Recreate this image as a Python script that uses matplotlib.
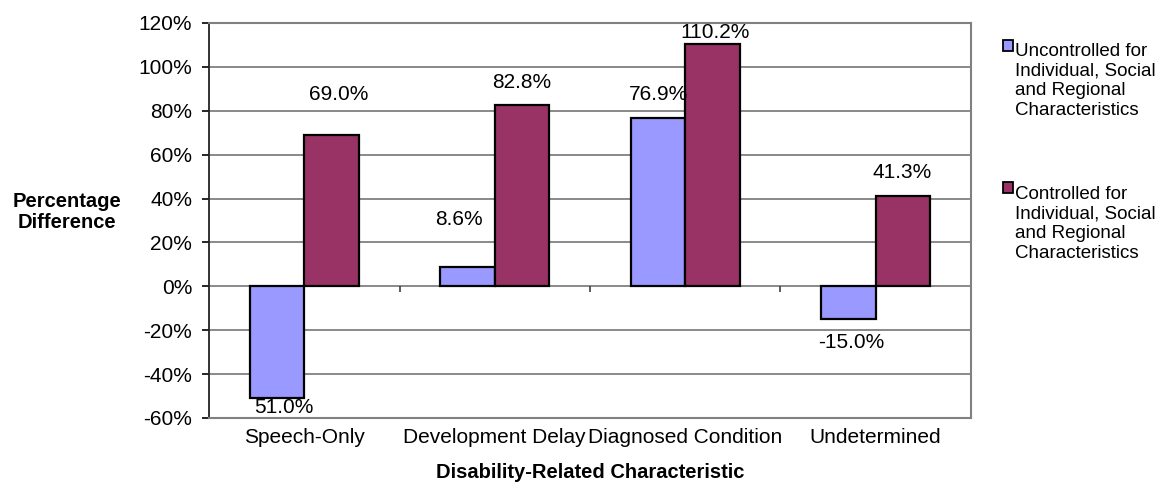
import numpy as np
import matplotlib
matplotlib.use("Agg")
import matplotlib.pyplot as plt
from matplotlib.patches import Rectangle

plt.rcParams["font.family"] = ["Liberation Sans", "DejaVu Sans"]

categories = ["Speech-Only", "Development Delay", "Diagnosed Condition", "Undetermined"]
uncontrolled = [-51.0, 8.6, 76.9, -15.0]
controlled = [69.0, 82.8, 110.2, 41.3]
series_names = [
    "Uncontrolled for\nIndividual, Social\nand Regional\nCharacteristics",
    "Controlled for\nIndividual, Social\nand Regional\nCharacteristics",
]
yticks = [-60, -40, -20, 0, 20, 40, 60, 80, 100, 120]

# hand-placed data label positions (x offset from category centre, y in %)
unc_label_pos = [(-0.105, -55.0), (-0.19, 30.5), (-0.14, 87.3), (-0.13, -25.5)]
con_label_pos = [(0.18, 87.3), (0.14, 92.7), (0.157, 115.5), (0.14, 51.8)]

BLUE = "#9999FF"
MAROON = "#993366"
GRID = "#808080"
FS = 15

fig = plt.figure(figsize=(11.6, 4.82), dpi=100)
ax = fig.add_axes([0.1802, 0.1328, 0.837 - 0.1802, 0.9523 - 0.1328])

x = np.arange(len(categories))
w = 0.286
b1 = ax.bar(x - w / 2, uncontrolled, w, color=BLUE, edgecolor="black", linewidth=1.6, zorder=3)
b2 = ax.bar(x + w / 2, controlled, w, color=MAROON, edgecolor="black", linewidth=1.6, zorder=3)

ax.set_xlim(-0.5, len(categories) - 0.5)
ax.set_ylim(-60, 120)
ax.set_yticks(yticks)
ax.set_yticklabels([f"{t}%" for t in yticks])
ax.yaxis.grid(True, color=GRID, linewidth=1.3, zorder=0)
ax.set_axisbelow(True)

ax.set_xticks(x)
ax.set_xticklabels(categories)
ax.tick_params(axis="x", length=0, pad=7, labelsize=FS)
ax.tick_params(axis="y", length=5, width=1.2, pad=7, labelsize=FS, direction="out")

for side in ["top", "right", "bottom"]:
    ax.spines[side].set_color(GRID)
    ax.spines[side].set_linewidth(1.5)
ax.spines["left"].set_color("#222222")
ax.spines["left"].set_linewidth(1.3)

# category separators on the zero line
bounds = np.arange(len(categories) + 1) - 0.5
ax.vlines(bounds[1:-1], -2.6, 0, color="#404040", linewidth=1.2, zorder=2)

for i, v in enumerate(uncontrolled):
    dx, y = unc_label_pos[i]
    txt = f"{v:.1f}%"
    if i == 0:
        # speech-only label is printed without its sign
        txt = txt.lstrip("-")
    ax.text(i + dx, y, txt, ha="center", va="center", fontsize=FS, zorder=4)
for i, v in enumerate(controlled):
    dx, y = con_label_pos[i]
    ax.text(i + dx, y, f"{v:.1f}%", ha="center", va="center", fontsize=FS, zorder=4)

ax.set_xlabel("Disability-Related Characteristic", fontsize=14.5, fontweight="bold", labelpad=12)
fig.text(0.0578, 0.560, "Percentage\nDifference", ha="center", va="center",
         fontsize=14.5, fontweight="bold", linespacing=1.15)

# legend, drawn by hand so the swatch sits at the first text line
H = 482.0
legend_rows = [(45.5, 80.75), (187.5, 223.75)]
for (sq_y, txt_y), bars, name in zip(legend_rows, [b1, b2], series_names):
    fig.patches.append(Rectangle((1003 / 1160, 1 - (sq_y + 5) / H), 10 / 1160, 10 / H,
                                 transform=fig.transFigure, facecolor=bars[0].get_facecolor(),
                                 edgecolor="black", linewidth=1.3))
    fig.text(1015 / 1160, 1 - txt_y / H, name, ha="left", va="center",
             fontsize=13.5, linespacing=1.2)

fig.savefig("out.png", dpi=100)
